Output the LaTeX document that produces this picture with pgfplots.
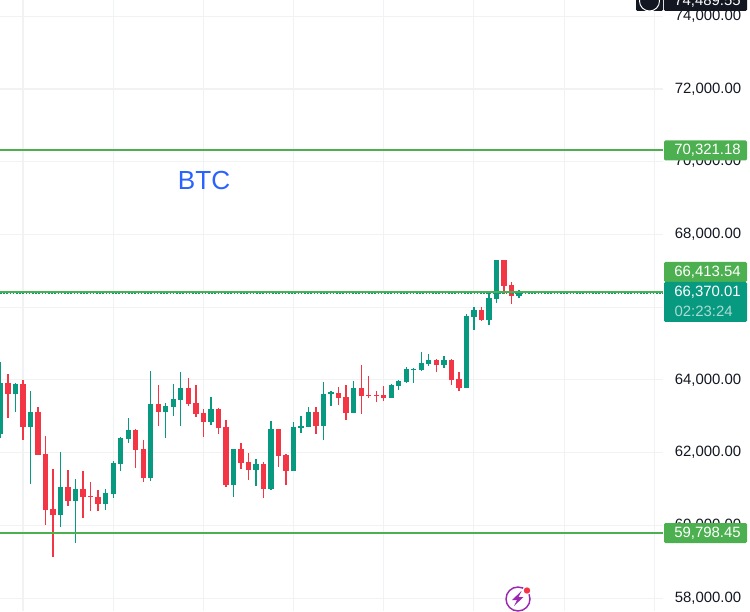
\documentclass[border=0pt]{standalone}
\usepackage{fontspec}
\usepackage{pgfplots}
\usepackage{pgfplotstable}
\pgfplotsset{compat=1.18}
\setmainfont{Liberation Sans}
\definecolor{up}{HTML}{089981}
\definecolor{down}{HTML}{F23645}
\definecolor{level}{HTML}{4CAF50}
\definecolor{gridc}{HTML}{F1F2F4}
\definecolor{ink}{HTML}{131722}
\definecolor{btc}{HTML}{2962FF}
\definecolor{icon}{HTML}{9C27B0}
% i  high  top  bottom  low  (top/bottom = candle body)
\pgfplotstableread{
i high top bot low
0 64492 63915 62512 62402
2 63924 63887 63612 63117
4 63695 63117 62705 61137
8 62017 61055 60285 59955
10 61275 61000 60670 59515
14 61000 60890 60587 60422
15 61770 61715 60862 60752
16 62430 62402 61687 61495
17 62952 62622 62375 62265
20 64245 63337 61302 61220
22 63365 63282 63117 62402
23 63887 63475 63255 63007
24 64217 63777 63447 62732
28 63530 63200 62842 62760
31 62100 62100 61110 60780
34 61825 61687 61522 61082
36 62870 62650 61000 60972
39 62842 62705 61495 61495
40 63007 62732 62677 62540
41 63255 63117 62705 62705
43 63942 63612 62732 62347
44 63695 63667 63612 63282
47 63970 63777 63090 63090
52 63887 63860 63502 63502
53 63997 63970 63832 63722
54 64355 64300 63942 63915
55 64327 64300 64272 63915
56 64767 64465 64272 64245
57 64712 64547 64437 64382
59 64657 64547 64410 64327
62 65812 65757 63777 63777
63 66005 65922 65730 65372
65 66390 66252 65647 65510
66 67297 67297 66225 66115
69 66472 66390 66307 66252
}\upcandles
\pgfplotstableread{
i high top bot low
1 64162 63915 63612 62952
3 63997 63887 62705 62347
5 63255 63117 61935 61935
6 62457 61962 60422 60010
7 61550 60450 60285 59130
9 61522 61055 60670 60532
11 61495 61000 60780 60202
12 61192 60807 60780 60395
13 60972 60780 60587 60395
18 62650 62622 62072 61577
19 62347 62100 61302 61192
21 63860 63337 63117 62732
25 64052 63777 63337 63282
26 63860 63365 63062 62980
27 63200 63090 62842 62430
29 63227 63200 62677 62512
30 62897 62705 61110 61055
32 62265 62100 61715 61550
33 61990 61742 61522 61247
35 61742 61687 61000 60752
37 62650 62650 61907 61605
38 61962 61935 61495 61110
42 63255 63117 62732 62512
45 63805 63640 63502 63310
46 63860 63530 63090 62897
48 64410 63777 63557 63062
49 64107 63585 63557 63502
50 63695 63585 63557 63392
51 63832 63585 63502 63420
58 64575 64547 64410 64217
60 64575 64547 63997 63860
61 64217 64025 63777 63695
64 66005 65922 65647 65620
67 67297 67297 66582 66362
68 66692 66610 66307 66087
}\downcandles
\newcommand{\px}{0.75pt}
\newcommand{\badge}[5]{% ytop ybottom colour text ycentre
  \fill[#3,rounded corners=1pt] (664*\px,{(611-#1)*\px}) rectangle (747*\px,{(611-#2)*\px});
  \node[anchor=east,inner sep=0pt,text=white,font=\fontsize{11.2}{11.2}\selectfont] at (741*\px,{(611-#5)*\px}) {#4};
}
\begin{document}
\begin{tikzpicture}
\useasboundingbox (0,0) rectangle (562.5pt,458.25pt);
\begin{axis}[
  scale only axis,
  width=497.25pt, height=458.25pt,
  xmin=-0.06, xmax=88.16,
  ymin=57645, ymax=74447.5,
  axis line style={draw=none},
  tick style={draw=none},
  xtick={3,15,27,39,51,63,75,87},
  xticklabels={},
  ytick={58000,60000,62000,64000,66000,68000,70000,72000,74000},
  scaled y ticks=false,
  yticklabel pos=right,
  grid=major,
  grid style={gridc,line width=0.8pt},
  /pgf/number format/.cd,fixed,fixed zerofill,precision=2,1000 sep={,},assume math mode=true,
  /pgfplots/.cd,
  yticklabel style={font=\fontsize{11.2}{11.2}\selectfont,text=ink,anchor=east,xshift=62.2pt},
]
\addplot[draw=none,mark=none,forget plot,error bars/.cd,y dir=plus,y explicit,error mark=none,error bar style={up,line width=1pt}]
  table[x=i,y=low,y error expr=\thisrow{high}-\thisrow{low}] {\upcandles};
\addplot[draw=none,mark=none,forget plot,error bars/.cd,y dir=plus,y explicit,error mark=none,error bar style={up,line width=4pt}]
  table[x=i,y=bot,y error expr=\thisrow{top}-\thisrow{bot}] {\upcandles};
\addplot[draw=none,mark=none,forget plot,error bars/.cd,y dir=plus,y explicit,error mark=none,error bar style={down,line width=1pt}]
  table[x=i,y=low,y error expr=\thisrow{high}-\thisrow{low}] {\downcandles};
\addplot[draw=none,mark=none,forget plot,error bars/.cd,y dir=plus,y explicit,error mark=none,error bar style={down,line width=4pt}]
  table[x=i,y=bot,y error expr=\thisrow{top}-\thisrow{bot}] {\downcandles};
\addplot[level,line width=1.5pt,forget plot] coordinates {(-0.06,70321.18) (88.16,70321.18)};
\addplot[level,line width=1.5pt,forget plot] coordinates {(-0.06,66413.54) (88.16,66413.54)};
\addplot[level,line width=1.5pt,forget plot] coordinates {(-0.06,59798.45) (88.16,59798.45)};
\addplot[up,line width=0.75pt,dash pattern=on 1.2pt off 1.2pt,forget plot] coordinates {(-0.06,66370.01) (88.16,66370.01)};
\end{axis}
% price badges
\fill[ink,rounded corners=1pt] (636*\px,{(611-11)*\px}) rectangle (663*\px,{(611+5)*\px});
\draw[white,line width=0.7pt] (649.5*\px,{(611-1)*\px}) circle (10*\px);
\fill[ink,rounded corners=1pt] (664*\px,{(611-11)*\px}) rectangle (747*\px,{(611+5)*\px});
\node[anchor=east,inner sep=0pt,text=white,font=\fontsize{11.2}{11.2}\selectfont] at (741*\px,{(611-1)*\px}) {74,489.55};
\badge{140.5}{160.5}{level}{70,321.18}{150}
\badge{262}{282}{level}{66,413.54}{272}
\badge{282}{322}{up}{66,370.01}{292}
\node[anchor=east,inner sep=0pt,text=up!35,font=\fontsize{11.2}{11.2}\selectfont] at (733*\px,{(611-311)*\px}) {02:23:24};
\badge{523}{543}{level}{59,798.45}{533}
% title
\node[text=btc,font=\fontsize{19.6}{19.6}\selectfont,inner sep=0pt] at (204*\px,{(611-181)*\px}) {BTC};
% icon
\fill[white] (518*\px,{(611-599)*\px}) circle (13*\px);
\draw[icon,line width=1.1pt] (518*\px,{(611-599)*\px}) circle (12*\px);
\fill[icon] (521.5*\px,{(611-591)*\px}) -- (512*\px,{(611-600)*\px}) -- (517*\px,{(611-600)*\px}) -- (514*\px,{(611-606)*\px}) -- (523.5*\px,{(611-597)*\px}) -- (518.5*\px,{(611-597)*\px}) -- cycle;
\fill[white] (527*\px,{(611-590.5)*\px}) circle (4.6*\px);
\fill[down] (527*\px,{(611-590.5)*\px}) circle (3.2*\px);
\end{tikzpicture}
\end{document}
